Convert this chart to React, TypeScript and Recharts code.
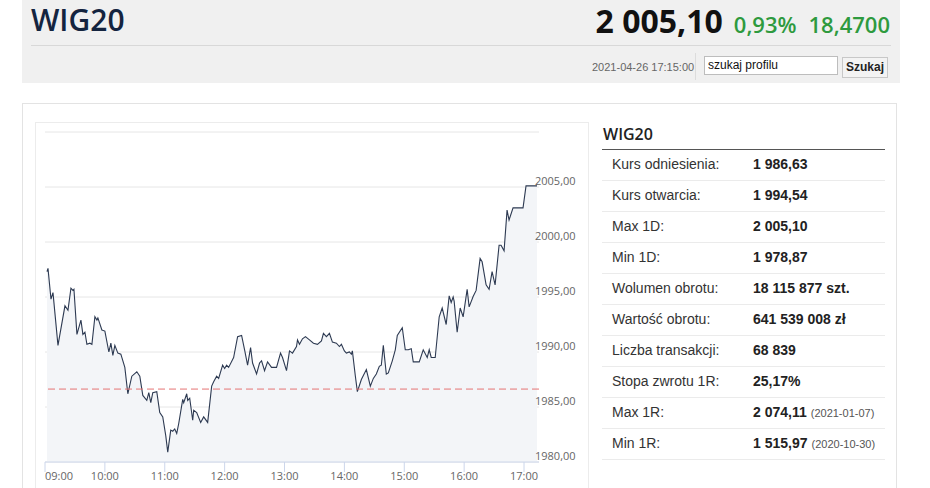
import React from 'react';
import { ComposedChart, Area, XAxis, YAxis, CartesianGrid, ReferenceLine } from 'recharts';

const minutes = [2,3,6,8,13,20,23,26,28,29,32,36,38,40,42,45,47,50,52,53,57,60,64,66,68,70,73,76,80,83,87,92,95,98,102,104,106,108,112,115,118,121,123,126,128,130,132,134,138,139,142,143,145,148,149,152,156,159,163,167,169,172,174,178,180,182,184,189,193,197,200,203,206,208,212,215,217,220,223,227,232,236,238,242,245,248,252,253,255,258,261,265,269,273,277,279,282,285,288,292,295,297,300,302,305,307,308,311,313,317,322,326,329,332,335,337,339,342,344,348,351,353,358,361,364,367,369,372,375,379,383,385,387,391,395,398,402,405,407,409,410,413,416,419,423,425,429,432,436,438,442,445,448,451,455,457,460,463,465,469,479,482,493];
const prices = [1997.3,1997.6,1994.8,1995.4,1990.6,1994.2,1993.8,1995.8,1995.6,1995.7,1991.6,1992.9,1991.6,1991.8,1990.7,1990.8,1990.7,1993.2,1992.9,1993.1,1992.0,1991.9,1990.0,1990.8,1989.7,1990.6,1989.9,1989.8,1988.6,1986.2,1987.8,1988.2,1987.8,1986.05,1985.6,1986.3,1985.4,1986.3,1986.4,1984.5,1984.1,1982.4,1980.9,1982.9,1982.8,1983.0,1982.6,1983.5,1985.7,1985.4,1986.2,1985.6,1985.8,1983.8,1984.7,1984.5,1983.6,1984.1,1983.6,1986.9,1987.3,1987.8,1987.6,1988.8,1988.5,1988.8,1988.6,1989.5,1991.4,1991.5,1990.2,1988.8,1990.4,1989.0,1988.0,1989.0,1989.2,1988.3,1989.1,1988.6,1988.6,1989.9,1989.5,1988.3,1990.1,1989.9,1990.5,1991.1,1990.7,1991.2,1991.4,1991.1,1990.8,1990.7,1991.0,1991.7,1991.4,1991.7,1990.9,1990.8,1990.5,1990.7,1990.1,1989.9,1990.0,1989.8,1990.1,1987.8,1986.4,1987.5,1988.4,1986.9,1987.6,1988.0,1988.7,1988.8,1990.6,1988.0,1988.1,1989.2,1990.2,1991.5,1992.2,1990.2,1990.2,1990.3,1989.1,1989.1,1989.1,1990.2,1989.5,1990.2,1989.5,1989.5,1993.2,1994.0,1992.5,1995.1,1994.5,1995.0,1994.6,1991.8,1994.0,1993.2,1995.7,1994.1,1995.05,1995.6,1998.5,1998.2,1996.1,1995.7,1997.3,1996.1,1999.7,1999.7,1999.2,2002.9,2002.0,2003.1,2003.1,2005.1,2005.1];

const referencePrice = 1986.63;
const xTicks = [0, 60, 120, 180, 240, 300, 360, 420, 480];
const xTickLabels = ['09:00', '10:00', '11:00', '12:00', '13:00', '14:00', '15:00', '16:00', '17:00'];
const yTicks = [1980, 1985, 1990, 1995, 2000, 2005, 2010];
const yTickLabels = ['1980,00', '1985,00', '1990,00', '1995,00', '2000,00', '2005,00', ''];

const tableLabels = ['Kurs odniesienia:', 'Kurs otwarcia:', 'Max 1D:', 'Min 1D:', 'Wolumen obrotu:', 'Wartość obrotu:', 'Liczba transakcji:', 'Stopa zwrotu 1R:', 'Max 1R:', 'Min 1R:'];
const tableValues = ['1 986,63', '1 994,54', '2 005,10', '1 978,87', '18 115 877 szt.', '641 539 008 zł', '68 839', '25,17%', '2 074,11', '1 515,97'];
const tableNotes = ['', '', '', '', '', '', '', '', '(2021-01-07)', '(2020-10-30)'];

const data = minutes.map((m, i) => ({ t: m, v: prices[i] }));

const XTick = (props: any) => {
  const { x, y, payload, index } = props;
  const i = xTicks.indexOf(payload.value);
  return (
    <text x={x} y={y + 8} textAnchor={index === 0 ? 'start' : 'middle'} fill="#666" fontSize={11} fontFamily="'Open Sans', sans-serif">
      {xTickLabels[i]}
    </text>
  );
};

const YTick = (props: any) => {
  const { x, y, payload } = props;
  const i = yTicks.indexOf(payload.value);
  const label = yTickLabels[i];
  if (!label) return <g />;
  return (
    <text x={x - 4} y={y - 2} textAnchor="start" fill="#666" fontSize={11} fontFamily="'Open Sans', sans-serif">
      {label}
    </text>
  );
};

export default function App() {
  return (
    <div style={{ position: 'absolute', left: 0, top: 0, width: 930, height: 488, overflow: 'hidden', background: '#fff', fontFamily: "'Liberation Sans', Arial, sans-serif" }}>
      {/* header */}
      <div style={{ position: 'absolute', left: 22, top: 0, width: 878, height: 83, background: '#f0f0f0' }}>
        <div style={{ position: 'absolute', left: 9, top: 0, fontFamily: "'Open Sans', sans-serif", fontWeight: 600, fontSize: 30, color: '#14243f', lineHeight: '40px' }}>WIG20</div>
        <div style={{ position: 'absolute', right: 10, top: 0, height: 42, display: 'flex', alignItems: 'baseline', fontFamily: "'Open Sans', sans-serif", lineHeight: '42px', whiteSpace: 'nowrap' }}>
          <span style={{ fontWeight: 700, fontSize: 32, color: '#111' }}>2 005,10</span>
          <span style={{ fontWeight: 600, fontSize: 22, color: '#2e9a3e', marginLeft: 11 }}>0,93%</span>
          <span style={{ fontWeight: 600, fontSize: 22, color: '#2e9a3e', marginLeft: 12 }}>18,4700</span>
        </div>
        <div style={{ position: 'absolute', left: 9, right: 9, top: 45, height: 1, background: '#d8d8d8' }} />
        <div style={{ position: 'absolute', left: 570, top: 61, fontSize: 11, color: '#666', whiteSpace: 'nowrap' }}>2021-04-26 17:15:00</div>
        <div style={{ position: 'absolute', left: 673, top: 53, width: 1, height: 27, background: '#dcdcdc' }} />
        <div style={{ position: 'absolute', left: 682, top: 56, width: 129, height: 17, background: '#fff', border: '1px solid #bdbdbd', fontSize: 12, color: '#111', lineHeight: '16px', paddingLeft: 3, boxSizing: 'content-box' }}>szukaj profilu</div>
        <div style={{ position: 'absolute', left: 820, top: 57, width: 44, height: 19, background: '#f3f3f3', border: '1px solid #c8c8c8', fontSize: 12, fontWeight: 700, color: '#222', lineHeight: '19px', textAlign: 'center' }}>Szukaj</div>
      </div>

      {/* outer box */}
      <div style={{ position: 'absolute', left: 22, top: 103, width: 875, height: 400, border: '1px solid #e3e3e3', boxSizing: 'border-box' }} />
      {/* chart frame */}
      <div style={{ position: 'absolute', left: 35, top: 122, width: 554, height: 380, border: '1px solid #ececec', boxSizing: 'border-box' }} />

      <div style={{ position: 'absolute', left: 36, top: 123 }}>
        <ComposedChart width={552} height={365} data={data} margin={{ top: 9, right: 0, bottom: 0, left: 9 }}>
          <CartesianGrid vertical={false} stroke="#e6e6e6" />
          <XAxis
            dataKey="t"
            type="number"
            domain={[0, 495]}
            ticks={xTicks}
            height={26}
            stroke="#ccd6eb"
            tickSize={10}
            tickMargin={0}
            tick={<XTick />}
            interval={0}
            allowDataOverflow
          />
          <YAxis
            orientation="right"
            type="number"
            domain={[1980, 2010]}
            ticks={yTicks}
            width={49}
            axisLine={false}
            tickLine={false}
            tickSize={0}
            tickMargin={0}
            tick={<YTick />}
            interval={0}
            allowDataOverflow
          />
          <Area
            type="linear"
            dataKey="v"
            stroke="#2d3a52"
            strokeWidth={1.1}
            fill="#f3f5f8"
            fillOpacity={1}
            isAnimationActive={false}
            dot={false}
            activeDot={false}
          />
          <ReferenceLine y={referencePrice} stroke="#e57373" strokeDasharray="7 4" strokeWidth={1} />
        </ComposedChart>
      </div>

      {/* table */}
      <div style={{ position: 'absolute', left: 602, top: 123, width: 283 }}>
        <div style={{ fontFamily: "'Open Sans', sans-serif", fontWeight: 600, fontSize: 16, color: '#222', height: 26, lineHeight: '22px', paddingLeft: 1 }}>WIG20</div>
        <div style={{ height: 1, background: '#555' }} />
        {tableLabels.map((lab, i) => (
          <div key={lab} style={{ position: 'relative', height: 30, borderBottom: '1px solid #ebebeb', fontSize: 14, lineHeight: '29px' }}>
            <span style={{ position: 'absolute', left: 10, color: '#333' }}>{lab}</span>
            <span style={{ position: 'absolute', left: 151, color: '#222', fontWeight: 700, whiteSpace: 'nowrap' }}>
              {tableValues[i]}
              {tableNotes[i] ? <span style={{ fontWeight: 400, fontSize: 11, color: '#555', marginLeft: 4 }}>{tableNotes[i]}</span> : null}
            </span>
          </div>
        ))}
      </div>
    </div>
  );
}
